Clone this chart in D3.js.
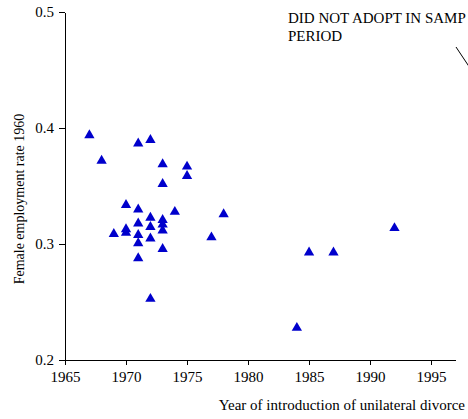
<!DOCTYPE html>
<html lang="en">
<head>
  <meta charset="utf-8">
  <title>Female employment vs unilateral divorce</title>
  <script src="https://cdn.jsdelivr.net/npm/d3@7"></script>
  <style>
    body { margin: 0; background: #fff; }
    text { font-family: "Liberation Serif", "Times New Roman", serif; fill: #000; }
    .axis path, .axis line { stroke: #000; shape-rendering: crispEdges; }
  </style>
</head>
<body>
<script>
  // year of introduction of unilateral divorce, female employment rate 1960
  var years = [1967, 1968, 1971, 1972, 1973, 1975, 1975, 1973, 1970, 1971, 1974,
    1972, 1973, 1971, 1973, 1972, 1973, 1970, 1970, 1969, 1971, 1972, 1971, 1973,
    1971, 1972, 1977, 1978, 1985, 1987, 1992, 1984];
  var rates = [0.395, 0.373, 0.388, 0.391, 0.370, 0.368, 0.360, 0.353, 0.335, 0.331, 0.329,
    0.324, 0.322, 0.319, 0.318, 0.316, 0.313, 0.314, 0.311, 0.310, 0.309, 0.306, 0.302, 0.297,
    0.289, 0.254, 0.307, 0.327, 0.294, 0.294, 0.315, 0.229];
  var xTicks = [1965, 1970, 1975, 1980, 1985, 1990, 1995];
  var yTicks = [0.2, 0.3, 0.4, 0.5];

  var width = 468, height = 419;

  var x = d3.scaleLinear().domain([1965, 1997]).range([65, 455.5]);
  var y = d3.scaleLinear().domain([0.2, 0.5]).range([360, 12]);

  var svg = d3.select("body").append("svg")
    .attr("width", width)
    .attr("height", height);

  svg.append("g")
    .attr("class", "x axis")
    .attr("transform", "translate(0,360)")
    .call(d3.axisBottom(x).tickValues(xTicks).tickFormat(d3.format("d"))
      .tickSizeInner(5).tickSizeOuter(0).tickPadding(6))
    .call(function(g) { g.selectAll("text").style("font-size", "15px"); });

  svg.append("g")
    .attr("class", "y axis")
    .attr("transform", "translate(65,0)")
    .call(d3.axisLeft(y).tickValues(yTicks).tickFormat(d3.format(".1f"))
      .tickSizeInner(6).tickSizeOuter(0).tickPadding(5))
    .call(function(g) { g.selectAll("text").style("font-size", "15px"); });

  var data = years.map(function(d, i) { return { year: d, rate: rates[i] }; });

  // d3 triangles sit on their centroid; nudge down so the box centre lands on the value
  svg.append("g").selectAll("path")
    .data(data)
    .enter().append("path")
    .attr("transform", function(d) { return "translate(" + x(d.year) + "," + (y(d.rate) + 1.5) + ")"; })
    .attr("d", d3.symbol().type(d3.symbolTriangle).size(46))
    .attr("fill", "#0000cc");

  svg.append("text")
    .attr("transform", "translate(24,199) rotate(-90)")
    .attr("text-anchor", "middle")
    .style("font-size", "14px")
    .text("Female employment rate 1960");

  svg.append("text")
    .attr("x", 465)
    .attr("y", 410)
    .attr("text-anchor", "end")
    .style("font-size", "15px")
    .text("Year of introduction of unilateral divorce");

  var note = svg.append("text")
    .style("font-size", "15px");
  note.append("tspan").attr("x", 288).attr("y", 23).text("DID NOT ADOPT IN SAMP");
  note.append("tspan").attr("x", 288).attr("y", 41).text("PERIOD");

  svg.append("line")
    .attr("x1", 456).attr("y1", 47)
    .attr("x2", 472).attr("y2", 71)
    .attr("stroke", "#000")
    .attr("stroke-width", 1);
</script>
</body>
</html>
